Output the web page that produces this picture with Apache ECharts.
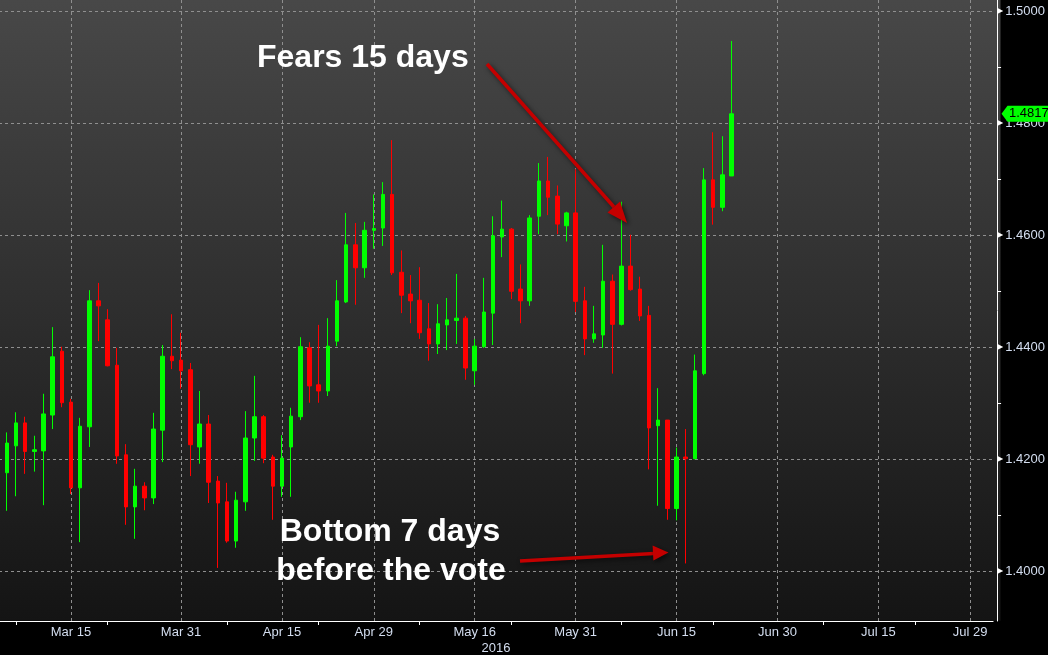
<!DOCTYPE html>
<html><head><meta charset="utf-8">
<script src="https://cdn.jsdelivr.net/npm/echarts@6/dist/echarts.min.js"></script>
<style>html,body{margin:0;padding:0;background:#000;overflow:hidden;width:1048px;height:655px;position:relative;}
#c{position:absolute;left:-7px;top:0;width:1055px;height:655px;}</style>
</head><body><div id="c"></div>
<script>
// Daily GBP/USD candles, first category = 2016-03-03 (weekdays only)
const openP  = [1.4076,1.4176,1.4224,1.4265,1.4214,1.4215,1.4279,1.4393,1.4302,1.4149,
                1.4258,1.4483,1.4449,1.4368,1.4208,1.4115,1.4152,1.4131,1.4252,1.4384,
                1.4377,1.4360,1.4222,1.4263,1.4161,1.4124,1.4054,1.4124,1.4238,1.4276,
                1.4204,1.4152,1.4222,1.4276,1.4399,1.4333,1.4322,1.4411,1.4481,1.4583,
                1.4542,1.4609,1.4613,1.4673,1.4534,1.4495,1.4484,1.4433,1.4406,1.4440,
                1.4448,1.4452,1.4358,1.4401,1.4461,1.4597,1.4611,1.4504,1.4483,1.4634,
                1.4697,1.4670,1.4617,1.4640,1.4483,1.4415,1.4422,1.4518,1.4441,1.4545,
                1.4504,1.4457,1.4260,1.4270,1.4112,1.4204,1.4201,1.4353,1.4699,1.4650,
                1.4706];
const closeP = [1.4177,1.4229,1.4265,1.4214,1.4217,1.4281,1.4383,1.4301,1.4149,1.4259,
                1.4483,1.4474,1.4367,1.4206,1.4115,1.4152,1.4131,1.4254,1.4384,1.4376,
                1.4358,1.4226,1.4263,1.4159,1.4122,1.4054,1.4127,1.4238,1.4276,1.4202,
                1.4152,1.4202,1.4277,1.4401,1.4331,1.4322,1.4402,1.4483,1.4583,1.4542,
                1.4609,1.4612,1.4673,1.4533,1.4493,1.4483,1.4426,1.4406,1.4442,1.4449,
                1.4452,1.4363,1.4402,1.4463,1.4599,1.4611,1.4500,1.4483,1.4631,1.4697,
                1.4668,1.4620,1.4640,1.4482,1.4415,1.4424,1.4518,1.4441,1.4545,1.4503,
                1.4456,1.4256,1.4270,1.4112,1.4204,1.4201,1.4358,1.4699,1.4650,1.4708,
                1.4817];
const lowP   = [1.4068,1.4108,1.4134,1.4174,1.4178,1.4118,1.4254,1.4293,1.4138,1.4052,
                1.4222,1.4411,1.4366,1.4192,1.4083,1.4058,1.4109,1.4120,1.4195,1.4361,
                1.4326,1.4170,1.4192,1.4122,1.4006,1.4051,1.4042,1.4108,1.4197,1.4193,
                1.4092,1.4133,1.4133,1.4270,1.4301,1.4301,1.4313,1.4402,1.4479,1.4476,
                1.4524,1.4576,1.4581,1.4529,1.4461,1.4443,1.4415,1.4376,1.4388,1.4395,
                1.4406,1.4342,1.4333,1.4399,1.4404,1.4561,1.4486,1.4443,1.4474,1.4602,
                1.4636,1.4602,1.4589,1.4463,1.4386,1.4408,1.4399,1.4353,1.4439,1.4501,
                1.4447,1.4182,1.4117,1.4092,1.4091,1.4014,1.4200,1.4350,1.4619,1.4643,
                1.4706];
const highP  = [1.4185,1.4248,1.4284,1.4276,1.4242,1.4317,1.4436,1.4401,1.4308,1.4274,
                1.4502,1.4515,1.4468,1.4399,1.4227,1.4183,1.4159,1.4283,1.4404,1.4459,
                1.4426,1.4372,1.4322,1.4279,1.4170,1.4158,1.4142,1.4286,1.4349,1.4279,
                1.4208,1.4243,1.4292,1.4418,1.4409,1.4440,1.4452,1.4520,1.4640,1.4622,
                1.4624,1.4673,1.4695,1.4770,1.4573,1.4529,1.4543,1.4479,1.4477,1.4488,
                1.4531,1.4456,1.4415,1.4524,1.4634,1.4662,1.4613,1.4548,1.4636,1.4729,
                1.4740,1.4689,1.4642,1.4718,1.4508,1.4474,1.4583,1.4530,1.4660,1.4601,
                1.4526,1.4474,1.4327,1.4270,1.4221,1.4254,1.4387,1.4720,1.4784,1.4777,
                1.4947];
const lastPrice = 1.4817;

const labelDates = ['2016-03-15','2016-03-31','2016-04-15','2016-04-29','2016-05-16',
                    '2016-05-31','2016-06-15','2016-06-30','2016-07-15','2016-07-29'];
const labelTexts = ['Mar 15','Mar 31','Apr 15','Apr 29','May 16','May 31','Jun 15','Jun 30','Jul 15','Jul 29'];
const minorTickDates = ['2016-03-07','2016-03-21','2016-04-07','2016-04-21','2016-05-06',
                        '2016-05-20','2016-06-07','2016-06-21','2016-07-07','2016-07-21'];
const yLabelValues = [1.40, 1.42, 1.44, 1.46, 1.48, 1.50];
const yMinorValues = [1.41, 1.43, 1.45, 1.47, 1.49];
const yearLabel = '2016';

// weekday categories of the axis
const dates = [];
(function(){
  const d = new Date(Date.UTC(2016, 2, 3));
  while (dates.length < 109) {
    const wd = d.getUTCDay();
    if (wd !== 0 && wd !== 6) dates.push(d.toISOString().slice(0, 10));
    d.setUTCDate(d.getUTCDate() + 1);
  }
})();

const candleData = openP.map((o, i) => [o, closeP[i], lowP[i], highP[i]]);

const labelColor = '#d4def0';
const gridColor = '#8f8f8f';
const arrowRed = '#c40000';
const FONT = 'Liberation Sans';
const DX = 7; // the chart canvas starts 7px left of the page

const chart = echarts.init(document.getElementById('c'), null, {renderer: 'canvas'});

const gridMarks = labelDates.map(v => ({xAxis: v})).concat(yLabelValues.map(v => ({yAxis: v})));
const shadow = {shadowBlur: 5, shadowColor: 'rgba(0,0,0,0.6)', shadowOffsetX: 2, shadowOffsetY: 2};

function txt(id, text, x, y, font, fill, align, z) {
  return {id: id, type: 'text', silent: true, z: z || 50,
    style: {text: text, x: x + DX, y: y, fill: fill, font: font,
            textAlign: align, textVerticalAlign: 'middle', align: align, verticalAlign: 'middle'}};
}

const option = {
  backgroundColor: '#000',
  animation: false,
  textStyle: {fontFamily: FONT},
  grid: {left: 0, right: 51.3, top: 0, bottom: 34, containLabel: false},
  xAxis: {
    type: 'category', data: dates, boundaryGap: true,
    axisLine: {show: true, lineStyle: {color: '#ffffff', width: 1}},
    axisTick: {show: true, alignWithLabel: true, length: 4,
      interval: (i, v) => minorTickDates.indexOf(v) >= 0,
      lineStyle: {color: '#ffffff'}},
    axisLabel: {interval: (i, v) => labelDates.indexOf(v) >= 0,
      formatter: v => { const k = labelDates.indexOf(v); return k >= 0 ? labelTexts[k] : ''; },
      color: labelColor, fontSize: 13, margin: 5, fontFamily: FONT},
    splitLine: {show: false}
  },
  yAxis: {
    type: 'value', position: 'right', min: 1.39112, max: 1.50202,
    minInterval: 0.02, maxInterval: 0.02, offset: 4, scale: true,
    axisLine: {show: true, lineStyle: {color: '#ffffff', width: 1}},
    axisTick: {show: true, customValues: yMinorValues, length: 4, inside: false, lineStyle: {color: '#ffffff'}},
    minorTick: {show: false},
    axisLabel: {
      customValues: yLabelValues, margin: 0,
      formatter: v => {
        const r = Math.round(v * 50);
        if (Math.abs(v * 50 - r) > 1e-6) return '';
        return '{t|\u25B6}{v|' + v.toFixed(4) + '}';
      },
      rich: {t: {color: '#ffffff', fontSize: 8, padding: [0, 2, 0, 0], fontFamily: 'DejaVu Sans'},
             v: {color: labelColor, fontSize: 13, fontFamily: FONT}}
    },
    splitLine: {show: false}
  },
  series: [
    {
      type: 'line', data: [], z: 1, silent: true,
      markLine: {silent: true, z: 1, symbol: ['none', 'none'], label: {show: false},
        lineStyle: {color: gridColor, type: [3, 3], width: 1}, animation: false,
        data: gridMarks}
    },
    {
      type: 'candlestick', data: candleData, barWidth: 4, z: 3, silent: true,
      itemStyle: {color: '#00ff00', color0: '#ff0000', borderColor: '#00ff00', borderColor0: '#ff0000', borderWidth: 1}
    }
  ],
  graphic: [
    {id: 'bg', type: 'rect', z: -100, silent: true,
     shape: {x: DX, y: 0, width: 1000.5, height: 620.7},
     style: {fill: new echarts.graphic.LinearGradient(0, 0, 0, 1, [
       {offset: 0, color: '#484848'}, {offset: 1, color: '#141414'}])}},
    txt('year', yearLabel, 496, 648, '13px "' + FONT + '"', labelColor, 'center'),
    txt('t1', 'Fears 15 days', 257, 58, 'bold 32px "' + FONT + '"', '#ffffff', 'left'),
    txt('t2', 'Bottom 7 days', 390, 532, 'bold 32px "' + FONT + '"', '#ffffff', 'center'),
    txt('t3', 'before the vote', 391, 571, 'bold 32px "' + FONT + '"', '#ffffff', 'center'),
    {id: 'a1l', type: 'line', silent: true, z: 40,
     shape: {x1: 487 + DX, y1: 64, x2: 614 + DX, y2: 207},
     style: Object.assign({stroke: arrowRed, lineWidth: 3.5}, shadow)},
    {id: 'a1h', type: 'polygon', silent: true, z: 40,
     shape: {points: [[627 + DX, 223], [607.5 + DX, 212.5], [620 + DX, 201.5]]},
     style: Object.assign({fill: arrowRed}, shadow)},
    {id: 'a2l', type: 'line', silent: true, z: 40,
     shape: {x1: 520 + DX, y1: 561, x2: 654 + DX, y2: 553.4},
     style: Object.assign({stroke: arrowRed, lineWidth: 3.5}, shadow)},
    {id: 'a2h', type: 'polygon', silent: true, z: 40,
     shape: {points: [[668.5 + DX, 552.6], [653.4 + DX, 560.5], [652.6 + DX, 545.5]]},
     style: Object.assign({fill: arrowRed}, shadow)}
  ]
};
chart.setOption(option);

// current-price marker on the right axis
const py = chart.convertToPixel({yAxisIndex: 0}, lastPrice);
chart.setOption({
  graphic: [
    {id: 'pm', type: 'polygon', silent: true, z: 60,
     shape: {points: [[1001.5 + DX, py], [1007.5 + DX, py - 8], [1048 + DX, py - 8], [1048 + DX, py + 8], [1007.5 + DX, py + 8]]},
     style: {fill: '#00ff00'}},
    txt('pt', lastPrice.toFixed(4), 1009, py, '13px "' + FONT + '"', '#000000', 'left', 70)
  ]
});
</script>
</body></html>
